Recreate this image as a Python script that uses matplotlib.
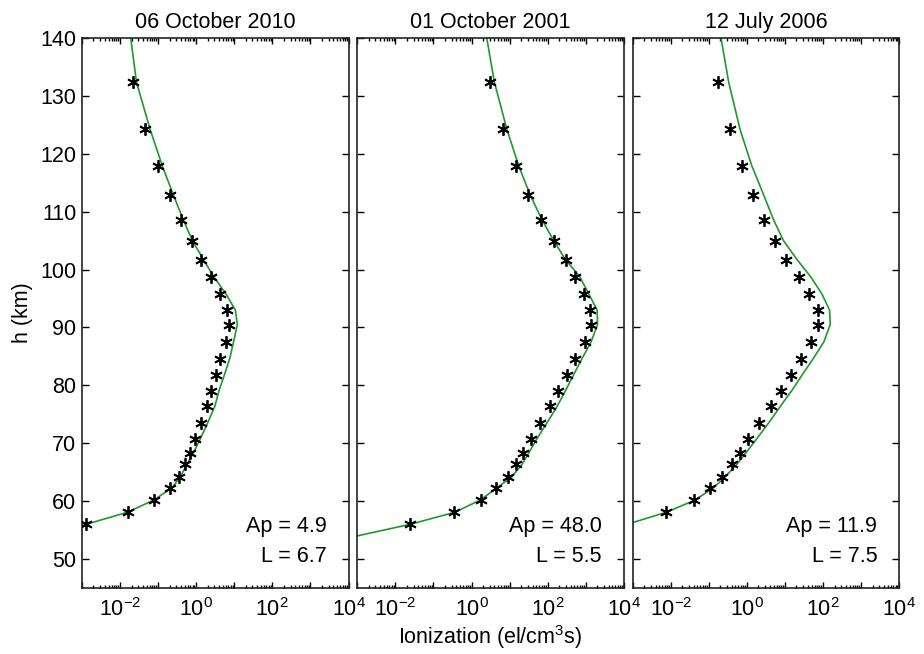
import numpy as np
import matplotlib
matplotlib.use("Agg")
import matplotlib.pyplot as plt
from matplotlib.ticker import FixedLocator, FuncFormatter, NullFormatter

plt.rcParams['font.family'] = ['Liberation Sans', 'DejaVu Sans']
plt.rcParams['mathtext.fontset'] = 'custom'
plt.rcParams['mathtext.rm'] = 'Liberation Sans'
plt.rcParams['mathtext.it'] = 'Liberation Sans'
plt.rcParams['mathtext.default'] = 'regular'

titles = ["06 October 2010", "01 October 2001", "12 July 2006"]
ap_values = ["4.9", "48.0", "11.9"]
l_values = ["6.7", "5.5", "7.5"]

# measured heights (km) of the asterisk points
h_pts = [56.0, 58.1, 60.2, 62.3, 64.2, 66.4, 68.4, 70.8, 73.5, 76.4, 79.1, 81.8,
         84.6, 87.5, 90.5, 93.0, 95.8, 98.8, 101.7, 105.0, 108.6, 112.9, 117.9,
         124.2, 132.4]

# log10 of measured ionization rate (asterisks)
meas_log_1 = [-2.89, -1.80, -1.11, -0.70, -0.46, -0.29, -0.16, -0.02, 0.12, 0.28, 0.39, 0.53,
              0.63, 0.77, 0.86, 0.81, 0.62, 0.395, 0.13, -0.105, -0.387, -0.676, -0.995,
              -1.35, -1.67]
meas_log_2 = [-1.61, -0.47, 0.24, 0.64, 0.96, 1.18, 1.36, 1.57, 1.81, 2.05, 2.28, 2.51,
              2.73, 2.97, 3.15, 3.12, 2.96, 2.73, 2.47, 2.17, 1.83, 1.48, 1.17,
              0.83, 0.49]
meas_log_3 = [np.nan, -2.12, -1.39, -0.97, -0.65, -0.40, -0.18, 0.04, 0.33, 0.63, 0.89, 1.17,
              1.43, 1.69, 1.88, 1.86, 1.64, 1.36, 1.03, 0.73, 0.45, 0.17, -0.12,
              -0.44, -0.77]

# model curves (green): heights and log10 ionization
line_h_1 = [55.8, 56.0, 58.1, 60.2, 62.3, 64.2, 66.4, 68.4, 70.8, 73.5, 76.4, 79.1, 81.8,
            84.6, 87.5, 90.5, 93.0, 95.8, 98.8, 101.7, 105.0, 108.6, 112.9, 117.9,
            124.2, 132.4, 140.0]
line_log_1 = [-3.0, -2.89, -1.80, -1.11, -0.64, -0.42, -0.24, -0.07, 0.11, 0.30, 0.49, 0.60, 0.74,
              0.88, 0.98, 1.08, 1.03, 0.78, 0.46, 0.19, -0.10, -0.34, -0.60, -0.89,
              -1.21, -1.57, -1.72]
line_h_2 = [54.0, 56.0, 58.1, 60.2, 62.3, 64.2, 66.4, 68.4, 70.8, 73.5, 76.4, 79.1, 81.8,
            84.6, 87.5, 90.5, 93.0, 95.8, 98.8, 101.7, 105.0, 108.6, 112.9, 117.9,
            124.2, 132.4, 140.0]
line_log_2 = [-3.0, -1.61, -0.43, 0.23, 0.67, 1.06, 1.33, 1.51, 1.72, 1.98, 2.25, 2.47, 2.68,
              2.90, 3.14, 3.31, 3.30, 3.08, 2.84, 2.47, 2.16, 1.85, 1.54, 1.24,
              0.93, 0.60, 0.40]
line_h_3 = [56.3, 58.1, 60.2, 62.3, 64.2, 66.4, 68.4, 70.8, 73.5, 76.4, 79.1, 81.8,
            84.6, 87.5, 90.5, 93.0, 95.8, 98.8, 101.7, 105.0, 108.6, 112.9, 117.9,
            124.2, 132.4, 140.0]
line_log_3 = [-3.0, -2.11, -1.36, -0.88, -0.57, -0.26, -0.02, 0.26, 0.57, 0.88, 1.18, 1.45,
              1.74, 2.02, 2.19, 2.17, 1.97, 1.67, 1.32, 0.96, 0.70, 0.44, 0.13,
              -0.18, -0.48, -0.68]

meas = [meas_log_1, meas_log_2, meas_log_3]
lines = [(line_h_1, line_log_1), (line_h_2, line_log_2), (line_h_3, line_log_3)]

x_major = [1e-3, 1e-2, 1e-1, 1e0, 1e1, 1e2, 1e3, 1e4]
x_labelled = [-2, 0, 2, 4]
y_ticks = [50, 60, 70, 80, 90, 100, 110, 120, 130, 140]

green = '#1f9a2a'
fs = 15.5

fig = plt.figure(figsize=(9.24, 6.54), dpi=100)
lefts = [82 / 924, 357.3 / 924, 632.7 / 924]
width = 266.5 / 924
bottom = 1 - 588 / 654
height = 550 / 654

def fmt(v, pos):
    e = int(round(np.log10(v)))
    if e in x_labelled:
        return r'$10^{%d}$' % e
    return ''

minor = []
for d in range(-3, 4):
    for m in range(2, 10):
        minor.append(m * 10.0 ** d)

for i in range(3):
    ax = fig.add_axes([lefts[i], bottom, width, height])
    lh, ll = lines[i]
    ax.plot(10.0 ** np.array(ll), lh, color=green, lw=1.2, zorder=2)
    ax.plot(10.0 ** np.array(meas[i]), h_pts, linestyle='none', marker=(6, 2, 0),
            markersize=9, markeredgewidth=1.3, color='black', zorder=3)
    ax.set_xscale('log')
    ax.set_xlim(1e-3, 1e4)
    ax.set_ylim(45, 140)
    ax.xaxis.set_major_locator(FixedLocator(x_major))
    ax.xaxis.set_minor_locator(FixedLocator(minor))
    ax.xaxis.set_major_formatter(FuncFormatter(fmt))
    ax.xaxis.set_minor_formatter(NullFormatter())
    ax.set_yticks(y_ticks)
    ax.tick_params(axis='both', which='both', direction='in', top=True, right=True,
                   labelsize=fs, color='black', width=1.0)
    ax.tick_params(axis='x', which='major', length=4.5, pad=7)
    ax.tick_params(axis='x', which='minor', length=2.5)
    ax.tick_params(axis='y', which='major', length=5, pad=4)
    if i > 0:
        ax.set_yticklabels([])
    for s in ax.spines.values():
        s.set_linewidth(1.2)
        s.set_color('#222222')
    ax.set_title(titles[i], fontsize=fs, pad=7)
    ax.text(0.918, 0.111, 'Ap = ' + ap_values[i], transform=ax.transAxes,
            ha='right', va='center', fontsize=fs)
    ax.text(0.918, 0.058, 'L = ' + l_values[i], transform=ax.transAxes,
            ha='right', va='center', fontsize=fs)
    if i == 0:
        ax.set_ylabel('h (km)', fontsize=fs, labelpad=5)
    if i == 1:
        ax.set_xlabel(r'Ionization (el/cm$^3$s)', fontsize=fs, labelpad=2)

fig.savefig('out.png', dpi=100)
